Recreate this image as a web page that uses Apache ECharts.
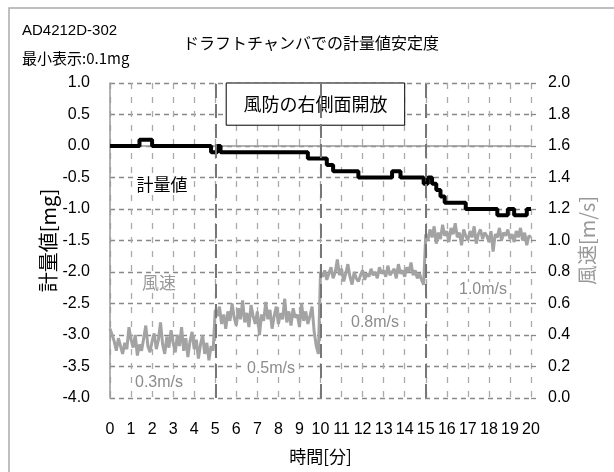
<!DOCTYPE html>
<html><head><meta charset="utf-8">
<script src="https://cdn.jsdelivr.net/npm/echarts@6/dist/echarts.min.js"></script>
<style>html,body{margin:0;padding:0;background:#fff}#c{width:614px;height:472px}</style>
</head><body><div id="c"></div>
<script>
// ---- data ----
const titleText = 'ドラフトチャンバでの計量値安定度';
const modelText = 'AD4212D-302';
const minDispText = '最小表示:0.1mg';
const boxText = '風防の右側面開放';
const xName = '時間[分]';
const massName = '計量値[mg]';
const speedName = '風速[m/s]';
const majorMinutes = [5, 10, 15];

// 計量値 step line: time [min] where value changes, value [mg]
const massTimes  = [0, 1.4, 2.0, 4.8, 5.1, 5.25, 9.4, 10.3, 10.6, 11.8, 13.4, 13.8, 14.9, 15.1, 15.3, 15.5, 15.7, 15.9, 16.9, 18.4, 18.9, 19.2, 19.8, 20];
const massValues = [0.0, 0.1, 0.0, -0.1, 0.0, -0.1, -0.2, -0.3, -0.4, -0.5, -0.4, -0.5, -0.6, -0.5, -0.6, -0.7, -0.8, -0.9, -1.0, -1.1, -1.0, -1.1, -1.0, -1.0];

// 風速 [m/s], sampled every 0.1 min from 0 to 20
const speedStep = 0.1;
const speed0_5 = [0.44,0.40,0.36,0.30,0.38,0.33,0.28,0.35,0.31,0.45,
                  0.37,0.32,0.40,0.27,0.34,0.30,0.38,0.46,0.33,0.29,
                  0.36,0.41,0.31,0.37,0.48,0.34,0.28,0.39,0.32,0.43,
                  0.35,0.29,0.40,0.33,0.45,0.30,0.38,0.26,0.36,0.42,
                  0.31,0.37,0.25,0.34,0.40,0.28,0.35,0.24,0.33,0.30];
const speed5_10 = [0.56,0.52,0.58,0.47,0.53,0.44,0.55,0.49,0.60,0.51,
                   0.46,0.57,0.50,0.62,0.48,0.54,0.45,0.59,0.52,0.47,
                   0.55,0.40,0.53,0.49,0.61,0.50,0.56,0.44,0.52,0.58,
                   0.47,0.54,0.50,0.63,0.48,0.55,0.46,0.57,0.51,0.53,
                   0.45,0.60,0.49,0.55,0.47,0.52,0.58,0.42,0.33,0.28];
const speed10_15 = [0.80,0.77,0.81,0.75,0.79,0.83,0.76,0.80,0.88,0.78,
                    0.82,0.74,0.79,0.85,0.77,0.72,0.80,0.76,0.74,0.78,
                    0.81,0.75,0.79,0.77,0.82,0.78,0.80,0.76,0.83,0.79,
                    0.81,0.77,0.84,0.78,0.80,0.82,0.76,0.85,0.79,0.81,
                    0.77,0.83,0.80,0.86,0.78,0.81,0.76,0.79,0.75,0.72];
const speed15_20 = [1.04,1.00,1.07,1.02,1.09,0.98,1.05,1.01,1.10,1.03,
                    1.06,0.99,1.08,1.04,1.11,1.02,1.05,0.97,1.07,1.03,
                    1.00,1.06,1.02,1.09,0.98,1.04,1.07,1.01,1.05,1.03,
                    0.99,1.06,0.93,1.04,1.02,1.08,1.00,1.05,1.03,1.07,
                    1.01,1.04,0.99,1.06,1.02,1.08,1.00,1.05,0.97,1.03,1.02];

const speedLabels = ['0.3m/s', '0.5m/s', '0.8m/s', '1.0m/s'];

// ---- build ----
const speedValues = speed0_5.concat(speed5_10, speed10_15, speed15_20);
const speedData = speedValues.map((v, i) => [+(i * speedStep).toFixed(1), v]);
const massData = massTimes.map((t, i) => [t, massValues[i]]);

const numFont = "'Liberation Sans',sans-serif";
const cjkFont = "'Noto Sans CJK JP',sans-serif";

const chart = echarts.init(document.getElementById('c'), null, {renderer: 'canvas'});

function txt(text, x, y, size, color, family, bg) {
  const style = {text: text, fill: color, font: size + 'px ' + family, align: 'center', verticalAlign: 'middle'};
  if (bg) { style.backgroundColor = '#fff'; style.padding = [0, 2]; }
  return {type: 'text', x: x, y: y, z: 100, style: style};
}

chart.setOption({
  animation: false,
  backgroundColor: '#fff',
  grid: {left: 110, right: 83, top: 83, bottom: 74, containLabel: false},
  xAxis: {
    type: 'value', min: 0, max: 20, interval: 1,
    name: xName, nameLocation: 'middle', nameGap: 50,
    nameTextStyle: {fontFamily: cjkFont, fontSize: 17, color: '#000'},
    axisLine: {show: true, lineStyle: {color: '#999', width: 1.5}},
    axisTick: {show: false},
    axisLabel: {margin: 24, fontFamily: numFont, fontSize: 16, color: '#000'},
    splitLine: {show: true, lineStyle: {color: '#aaa', type: [6, 8], width: 1.3}}
  },
  yAxis: [{
    type: 'value', min: -4, max: 1, interval: 0.5, position: 'left',
    name: massName, nameLocation: 'middle', nameGap: 52, nameRotate: 90, nameMoveOverlap: false,
    nameTextStyle: {fontFamily: cjkFont, fontSize: 20, color: '#000'},
    axisLine: {show: true, lineStyle: {color: '#999', width: 1.5}},
    axisTick: {show: false},
    axisLabel: {margin: 20, fontFamily: numFont, fontSize: 16, color: '#000', formatter: v => v.toFixed(1)},
    splitLine: {show: true, lineStyle: {color: '#888', type: [5, 4], width: 1.3}}
  }, {
    type: 'value', min: 0, max: 2, interval: 0.2, position: 'right',
    name: speedName, nameLocation: 'middle', nameGap: 46, nameRotate: 90, nameMoveOverlap: false,
    nameTextStyle: {fontFamily: cjkFont, fontSize: 20, color: '#999'},
    axisLine: {show: false},
    axisTick: {show: true, length: 5, inside: false, lineStyle: {color: '#888', width: 1.3}},
    axisLabel: {margin: 17, fontFamily: numFont, fontSize: 16, color: '#000', formatter: v => v.toFixed(1)},
    splitLine: {show: false}
  }],
  series: [{
    name: '風速', type: 'line', yAxisIndex: 1, data: speedData, z: 2,
    symbol: 'none', lineStyle: {color: '#a3a3a3', width: 3},
    markLine: {
      silent: true, symbol: 'none', label: {show: false},
      lineStyle: {color: '#777', type: [14, 6], width: 2},
      data: majorMinutes.map(m => ({xAxis: m}))
    }
  }, {
    name: '計量値', type: 'line', yAxisIndex: 0, data: massData, z: 3,
    step: 'end', symbol: 'none', lineStyle: {color: '#000', width: 4},
    markArea: {
      silent: true,
      itemStyle: {color: '#fff', borderColor: '#000', borderWidth: 1, opacity: 1},
      label: {show: true, position: 'inside', fontFamily: cjkFont, fontSize: 18, color: '#000'},
      data: [[{name: boxText, xAxis: 5.52, yAxis: 1.0}, {xAxis: 14.0, yAxis: 0.33}]]
    }
  }],
  graphic: [
    {type: 'rect', shape: {x: 9, y: 8, width: 700, height: 600}, z: 0,
     style: {fill: 'none', stroke: '#aaa', lineWidth: 1.5}},
    txt(titleText, 311, 43, 16, '#000', cjkFont),
    {type: 'text', x: 22, y: 31, z: 100, style: {text: modelText, fill: '#000', font: '15px ' + numFont, align: 'left', verticalAlign: 'middle'}},
    {type: 'text', x: 22, y: 58, z: 100, style: {text: minDispText, fill: '#000', font: '15px ' + cjkFont, align: 'left', verticalAlign: 'middle'}},
    txt('計量値', 162, 185, 17, '#000', cjkFont, true),
    txt('風速', 159, 283, 17, '#999', cjkFont, true),
    txt(speedLabels[0], 159, 383, 16, '#8c8c8c', numFont, true),
    txt(speedLabels[1], 271, 369, 16, '#8c8c8c', numFont, true),
    txt(speedLabels[2], 375, 323, 16, '#8c8c8c', numFont, true),
    txt(speedLabels[3], 483, 290, 16, '#8c8c8c', numFont, true)
  ]
});
</script>
</body></html>
